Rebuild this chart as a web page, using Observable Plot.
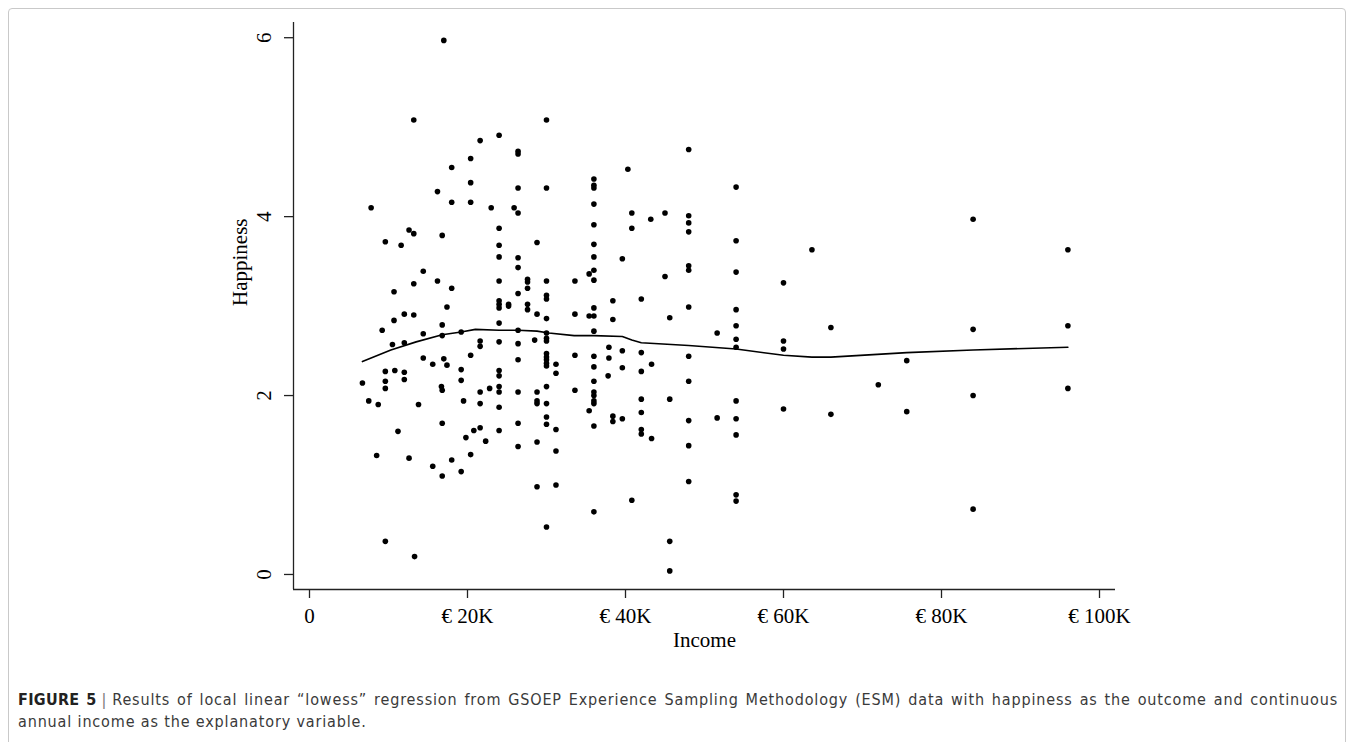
<!DOCTYPE html>
<html>
<head>
<meta charset="utf-8">
<script src="https://cdn.jsdelivr.net/npm/d3@7"></script>
<script src="https://cdn.jsdelivr.net/npm/@observablehq/plot@0.6"></script>
<style>
  html, body { margin: 0; padding: 0; background: #fff; }
  body { width: 1355px; height: 742px; position: relative; overflow: hidden; }
  #frame { position: absolute; left: 8px; top: 8px; width: 1338px; height: 740px; border: 1px solid #c9c9c9; border-radius: 4px; box-sizing: border-box; }
  #chart { position: absolute; left: 0; top: 0; }
  #caption { position: absolute; left: 18px; top: 689px; width: 1320px; font-family: "DejaVu Sans Condensed", "Liberation Sans Narrow", sans-serif; font-size: 16px; letter-spacing: 0.85px; line-height: 22px; color: #3a3a3a; }
  #caption .l1 { text-align: justify; text-align-last: justify; white-space: nowrap; }
  #caption b { color: #222; letter-spacing: 0.3px; }
  #caption .sep { color: #777; padding: 0 5px; }
</style>
</head>
<body>
<div id="frame"></div>
<div id="chart"></div>
<div id="caption">
  <div class="l1"><b>FIGURE 5</b><span class="sep">|</span>Results of local linear “lowess” regression from GSOEP Experience Sampling Methodology (ESM) data with happiness as the outcome and continuous</div>
  <div>annual income as the explanatory variable.</div>
</div>
<script>
// Annual income in thousand euros, and happiness score, for each respondent
const incomeK = [
  17.0, 13.2, 30.0, 24.0, 21.6, 26.4, 26.4, 20.4, 18.0, 20.4,
  26.4, 30.0, 16.2, 7.8, 18.0, 20.4, 23.0, 25.9, 26.4, 24.0,
  12.6, 13.2, 9.6, 11.6, 16.8, 28.8, 24.0, 24.0, 26.4, 26.4,
  14.4, 16.2, 24.0, 27.6, 27.6, 30.0, 13.2, 18.0, 10.7, 26.4,
  27.6, 30.0, 30.0, 24.0, 24.0, 24.0, 25.2, 25.2, 17.4, 12.0,
  13.2, 27.6, 27.6, 28.8, 30.0, 10.7, 9.2, 16.8, 16.8, 14.4,
  10.5, 12.0, 19.2, 24.0, 21.6, 21.6, 24.0, 26.4, 26.4, 26.4,
  28.5, 30.0, 30.0, 30.0, 30.0, 30.0, 30.0, 30.0, 30.0, 14.4,
  15.6, 17.0, 17.4, 20.4, 19.2, 19.2, 6.7, 9.6, 9.6, 9.6,
  10.8, 12.0, 12.0, 16.7, 16.8, 21.6, 21.6, 22.8, 24.0, 24.0,
  24.0, 24.0, 24.0, 26.4, 28.8, 28.8, 28.8, 30.0, 30.0, 30.0,
  30.0, 7.5, 8.7, 13.8, 19.5, 11.2, 16.8, 19.8, 20.8, 21.6,
  22.3, 24.0, 26.4, 26.4, 28.8, 8.5, 12.6, 15.6, 16.8, 18.0,
  19.2, 20.4, 28.8, 30.0, 9.6, 13.3, 48.0, 40.3, 36.0, 36.0,
  36.0, 54.0, 36.0, 40.8, 45.0, 43.2, 48.0, 48.0, 48.0, 36.0,
  40.8, 54.0, 36.0, 36.0, 39.6, 36.0, 35.4, 48.0, 48.0, 45.0,
  54.0, 33.6, 36.0, 60.0, 38.4, 42.0, 33.6, 35.4, 36.0, 36.0,
  38.4, 45.6, 48.0, 54.0, 54.0, 51.6, 36.0, 54.0, 60.0, 37.9,
  54.0, 60.0, 31.2, 31.2, 33.6, 36.0, 36.0, 37.9, 39.6, 39.6,
  42.0, 42.0, 43.3, 48.0, 48.0, 31.2, 31.2, 31.2, 33.6, 35.4,
  36.0, 36.0, 36.0, 36.0, 36.0, 36.0, 36.0, 37.8, 38.4, 38.4,
  39.6, 40.8, 42.0, 42.0, 42.0, 42.0, 43.3, 45.6, 45.6, 45.6,
  48.0, 48.0, 48.0, 51.6, 54.0, 54.0, 54.0, 54.0, 54.0, 60.0,
  84.0, 63.6, 96.0, 66.0, 84.0, 96.0, 75.6, 72.0, 84.0, 96.0,
  66.0, 75.6, 84.0
];
const happiness = [
  5.97, 5.08, 5.08, 4.91, 4.85, 4.73, 4.70, 4.65, 4.55, 4.38,
  4.32, 4.32, 4.28, 4.10, 4.16, 4.16, 4.10, 4.10, 4.04, 3.87,
  3.85, 3.81, 3.72, 3.68, 3.79, 3.71, 3.68, 3.55, 3.54, 3.43,
  3.39, 3.28, 3.28, 3.30, 3.27, 3.28, 3.25, 3.20, 3.16, 3.14,
  3.20, 3.12, 3.08, 3.06, 3.02, 2.98, 3.02, 3.00, 2.99, 2.91,
  2.90, 3.02, 2.96, 2.91, 2.86, 2.84, 2.73, 2.79, 2.67, 2.69,
  2.57, 2.59, 2.71, 2.81, 2.61, 2.55, 2.60, 2.73, 2.58, 2.40,
  2.62, 2.70, 2.64, 2.61, 2.47, 2.43, 2.40, 2.36, 2.33, 2.42,
  2.35, 2.41, 2.34, 2.45, 2.29, 2.17, 2.14, 2.27, 2.16, 2.08,
  2.28, 2.26, 2.18, 2.10, 2.06, 2.04, 1.91, 2.08, 2.28, 2.22,
  2.10, 2.04, 1.87, 2.04, 2.04, 1.94, 1.91, 2.10, 1.91, 1.76,
  1.68, 1.94, 1.90, 1.90, 1.94, 1.60, 1.69, 1.53, 1.61, 1.64,
  1.49, 1.61, 1.69, 1.43, 1.48, 1.33, 1.30, 1.21, 1.10, 1.28,
  1.15, 1.34, 0.98, 0.53, 0.37, 0.20, 4.75, 4.53, 4.42, 4.35,
  4.32, 4.33, 4.14, 4.04, 4.04, 3.97, 4.01, 3.93, 3.83, 3.91,
  3.87, 3.73, 3.69, 3.55, 3.53, 3.40, 3.36, 3.45, 3.40, 3.33,
  3.38, 3.28, 3.29, 3.26, 3.06, 3.08, 2.91, 2.89, 2.89, 2.98,
  2.85, 2.87, 2.99, 2.96, 2.78, 2.70, 2.72, 2.63, 2.61, 2.54,
  2.54, 2.52, 2.35, 2.25, 2.45, 2.44, 2.32, 2.42, 2.50, 2.31,
  2.48, 2.27, 2.35, 2.44, 2.16, 1.62, 1.38, 1.00, 2.06, 1.83,
  2.16, 2.04, 2.00, 1.94, 1.91, 1.66, 0.70, 2.22, 1.77, 1.71,
  1.74, 0.83, 1.96, 1.81, 1.62, 1.57, 1.52, 1.96, 0.37, 0.04,
  1.72, 1.44, 1.04, 1.75, 1.94, 1.74, 1.56, 0.89, 0.82, 1.85,
  3.97, 3.63, 3.63, 2.76, 2.74, 2.78, 2.39, 2.12, 2.00, 2.08,
  1.79, 1.82, 0.73
];

// Lowess fit (thousand euros, happiness)
const lowessIncomeK = [6.7, 10.3, 13.5, 16.8, 19.2, 21.0, 24.0, 26.4, 28.8, 30.3, 33.5, 36.0, 39.6, 40.8, 42.0, 48.0, 54.0, 60.0, 63.6, 66.0, 75.6, 84.0, 96.0];
const lowessHappiness = [2.38, 2.51, 2.60, 2.68, 2.71, 2.74, 2.73, 2.73, 2.72, 2.70, 2.67, 2.67, 2.66, 2.62, 2.59, 2.56, 2.52, 2.45, 2.43, 2.43, 2.48, 2.51, 2.54];

const xTicks = [0, 20, 40, 60, 80, 100];
const yTicks = [0, 2, 4, 6];
const xDomain = [-2.025, 102.025];
const yDomain = [-0.168, 6.17];
const xTitle = "Income";
const yTitle = "Happiness";

const points = incomeK.map((x, i) => ({x, y: happiness[i]}));
const fit = lowessIncomeK.map((x, i) => ({x, y: lowessHappiness[i]}));

const chart = Plot.plot({
  width: 1355,
  height: 660,
  marginLeft: 293,
  marginRight: 240,
  marginTop: 22,
  marginBottom: 71,
  style: {fontFamily: "'Liberation Serif', 'Times New Roman', serif", fontSize: "21px", color: "#000", background: "transparent"},
  x: {domain: xDomain},
  y: {domain: yDomain},
  marks: [
    Plot.ruleX([xDomain[0]], {stroke: "#222", strokeWidth: 1.3}),
    Plot.ruleY([yDomain[0]], {stroke: "#222", strokeWidth: 1.3}),
    Plot.axisX({ticks: xTicks, tickFormat: d => d === 0 ? "0" : "€ " + d + "K", tickSize: 9, tickPadding: 10, label: null, stroke: "#222", strokeWidth: 1.3}),
    Plot.axisY({ticks: yTicks, tickFormat: d => String(d), tickSize: 9, tickPadding: 14, tickRotate: -90, label: null, stroke: "#222", strokeWidth: 1.3}),
    Plot.text([xTitle], {text: d => d, frameAnchor: "bottom", dy: 57, fontSize: 21}),
    Plot.text([yTitle], {text: d => d, frameAnchor: "left", rotate: -90, dx: -53, fontSize: 21}),
    Plot.dot(points, {x: "x", y: "y", r: 2.8, fill: "#000", stroke: "none"}),
    Plot.line(fit, {x: "x", y: "y", stroke: "#000", strokeWidth: 1.6})
  ]
});
document.getElementById("chart").appendChild(chart);
</script>
</body>
</html>
